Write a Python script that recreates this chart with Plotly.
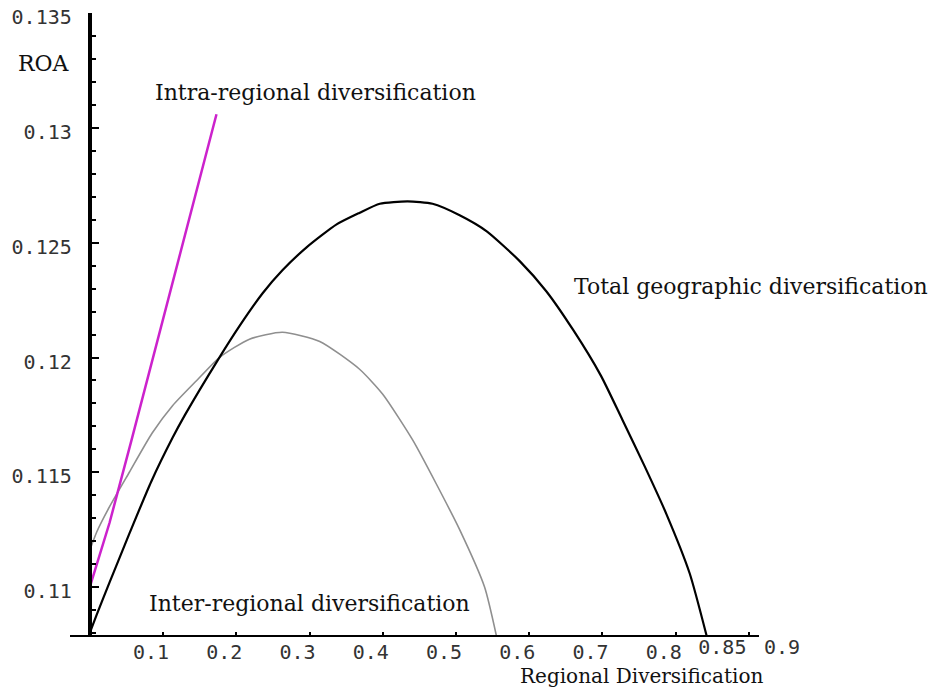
import plotly.graph_objects as go

# ---- data ----
total_x = [0.0, 0.0095, 0.027, 0.055, 0.084, 0.113, 0.13, 0.175, 0.205, 0.236, 0.263, 0.296,
           0.337, 0.368, 0.396, 0.434, 0.468, 0.505, 0.542, 0.587, 0.623, 0.66, 0.698,
           0.727, 0.757, 0.787, 0.819, 0.842]
total_y = [0.1080, 0.1088, 0.1102, 0.1124, 0.1146, 0.1165, 0.1175, 0.1199, 0.1214, 0.1228,
           0.1238, 0.1248, 0.1258, 0.1263, 0.1267, 0.1268, 0.1267, 0.1262, 0.1255, 0.1242,
           0.1229, 0.1212, 0.1192, 0.1173, 0.1153, 0.1132, 0.1106, 0.1079]

inter_x = [0.0, 0.0095, 0.027, 0.054, 0.085, 0.113, 0.146, 0.177, 0.218, 0.263, 0.314,
           0.368, 0.40, 0.441, 0.473, 0.505, 0.539, 0.555]
inter_y = [0.1116, 0.1124, 0.1135, 0.1150, 0.1167, 0.1179, 0.1190, 0.1200, 0.1208, 0.1211,
           0.1207, 0.1195, 0.1184, 0.1164, 0.1145, 0.1125, 0.1100, 0.1079]

intra_x = [0.0, 0.027, 0.057, 0.173]
intra_y = [0.1100, 0.1128, 0.1164, 0.1306]

x_tick_vals = [0.1, 0.2, 0.3, 0.4, 0.5, 0.6, 0.7, 0.8]
x_tick_text = ["0.1", "0.2", "0.3", "0.4", "0.5", "0.6", "0.7", "0.8"]
x_extra_vals = [0.85, 0.9]
x_extra_text = ["0.85", "0.9"]
y_tick_vals = [0.11, 0.115, 0.12, 0.125, 0.13, 0.135]
y_tick_text = ["0.11", "0.115", "0.12", "0.125", "0.13", "0.135"]

series_labels = ["Intra-regional diversification", "Total geographic diversification",
                 "Inter-regional diversification"]
x_title = "Regional Diversification"
y_title = "ROA"

serif = "DejaVu Serif"
tickfont = dict(family="DejaVu Sans Mono", size=20, color="#333")

fig = go.Figure()
fig.add_trace(go.Scatter(x=inter_x, y=inter_y, mode="lines",
                         line=dict(color="#8f8f8f", width=1.6, shape="spline", smoothing=0.6),
                         showlegend=False))
fig.add_trace(go.Scatter(x=total_x, y=total_y, mode="lines",
                         line=dict(color="black", width=2.2, shape="spline", smoothing=0.6),
                         showlegend=False))
fig.add_trace(go.Scatter(x=intra_x, y=intra_y, mode="lines", line=dict(color="#CC22CC", width=2.5),
                         showlegend=False))
# invisible traces on the overlay axes that carry the 0.85 / 0.9 labels
for ax in ("x2", "x3"):
    fig.add_trace(go.Scatter(x=[0.9], y=[0.12], xaxis=ax, mode="markers", marker=dict(opacity=0),
                             showlegend=False, hoverinfo="skip"))

x_range = [-0.027, 0.9137]
y_range = [0.10791, 0.13501]

common_x = dict(range=x_range, showgrid=False, zeroline=False, automargin=False, tickangle=0,
                tickfont=tickfont, ticklabelstandoff=-2, tickcolor="black", tickwidth=2)

fig.update_layout(
    width=943, height=689,
    margin=dict(l=70, r=184, t=13, b=54),
    plot_bgcolor="white", paper_bgcolor="white",
    xaxis=dict(showline=True, linecolor="black", linewidth=2, ticks="inside", ticklen=3,
               tickvals=x_tick_vals, ticktext=x_tick_text, ticklabelshift=-12, anchor="y",
               **common_x),
    xaxis2=dict(overlaying="x", anchor="y", side="bottom", showline=False, ticks="",
                tickvals=[x_extra_vals[0]], ticktext=[x_extra_text[0]], ticklabelshift=10,
                **common_x),
    xaxis3=dict(overlaying="x", anchor="y", side="bottom", showline=False, ticks="inside",
                ticklen=3, tickvals=[x_extra_vals[1]], ticktext=[x_extra_text[1]],
                ticklabelshift=33, **common_x),
    yaxis=dict(range=y_range, showgrid=False, zeroline=False, showline=True, linecolor="black",
               linewidth=4, ticks="inside", ticklen=7, tickcolor="black", tickwidth=2,
               tickvals=y_tick_vals, ticktext=y_tick_text, tickfont=tickfont,
               anchor="free", position=(0 - x_range[0]) / (x_range[1] - x_range[0]),
               ticklabelstandoff=12, ticklabelshift=4, ticklabeloverflow="allow",
               automargin=False,
               minor=dict(dtick=0.001, tick0=0.11, ticks="inside", ticklen=4, tickcolor="black",
                          tickwidth=2, showgrid=False)),
)

annots = [
    dict(text=series_labels[0], x=0.1205, y=0.8714, xanchor="left"),
    dict(text=series_labels[1], x=0.7286, y=0.5595, xanchor="left"),
    dict(text=series_labels[2], x=0.1118, y=0.0514, xanchor="left"),
]
for a in annots:
    fig.add_annotation(xref="paper", yref="paper", showarrow=False, yanchor="middle",
                       font=dict(family=serif, size=22, color="#111"), **a)

fig.add_annotation(text=y_title, xref="paper", yref="paper", x=-0.0377, y=0.9196,
                   xanchor="center", yanchor="middle", showarrow=False,
                   font=dict(family=serif, size=22, color="#111"))
fig.add_annotation(text=x_title, xref="paper", yref="paper", x=0.829, y=-0.0868,
                   xanchor="center", yanchor="bottom", showarrow=False, borderpad=0,
                   font=dict(family=serif, size=20, color="#111"))

fig.write_html("out.html", config={"displayModeBar": False},
               post_script="document.body.style.margin='0';")
